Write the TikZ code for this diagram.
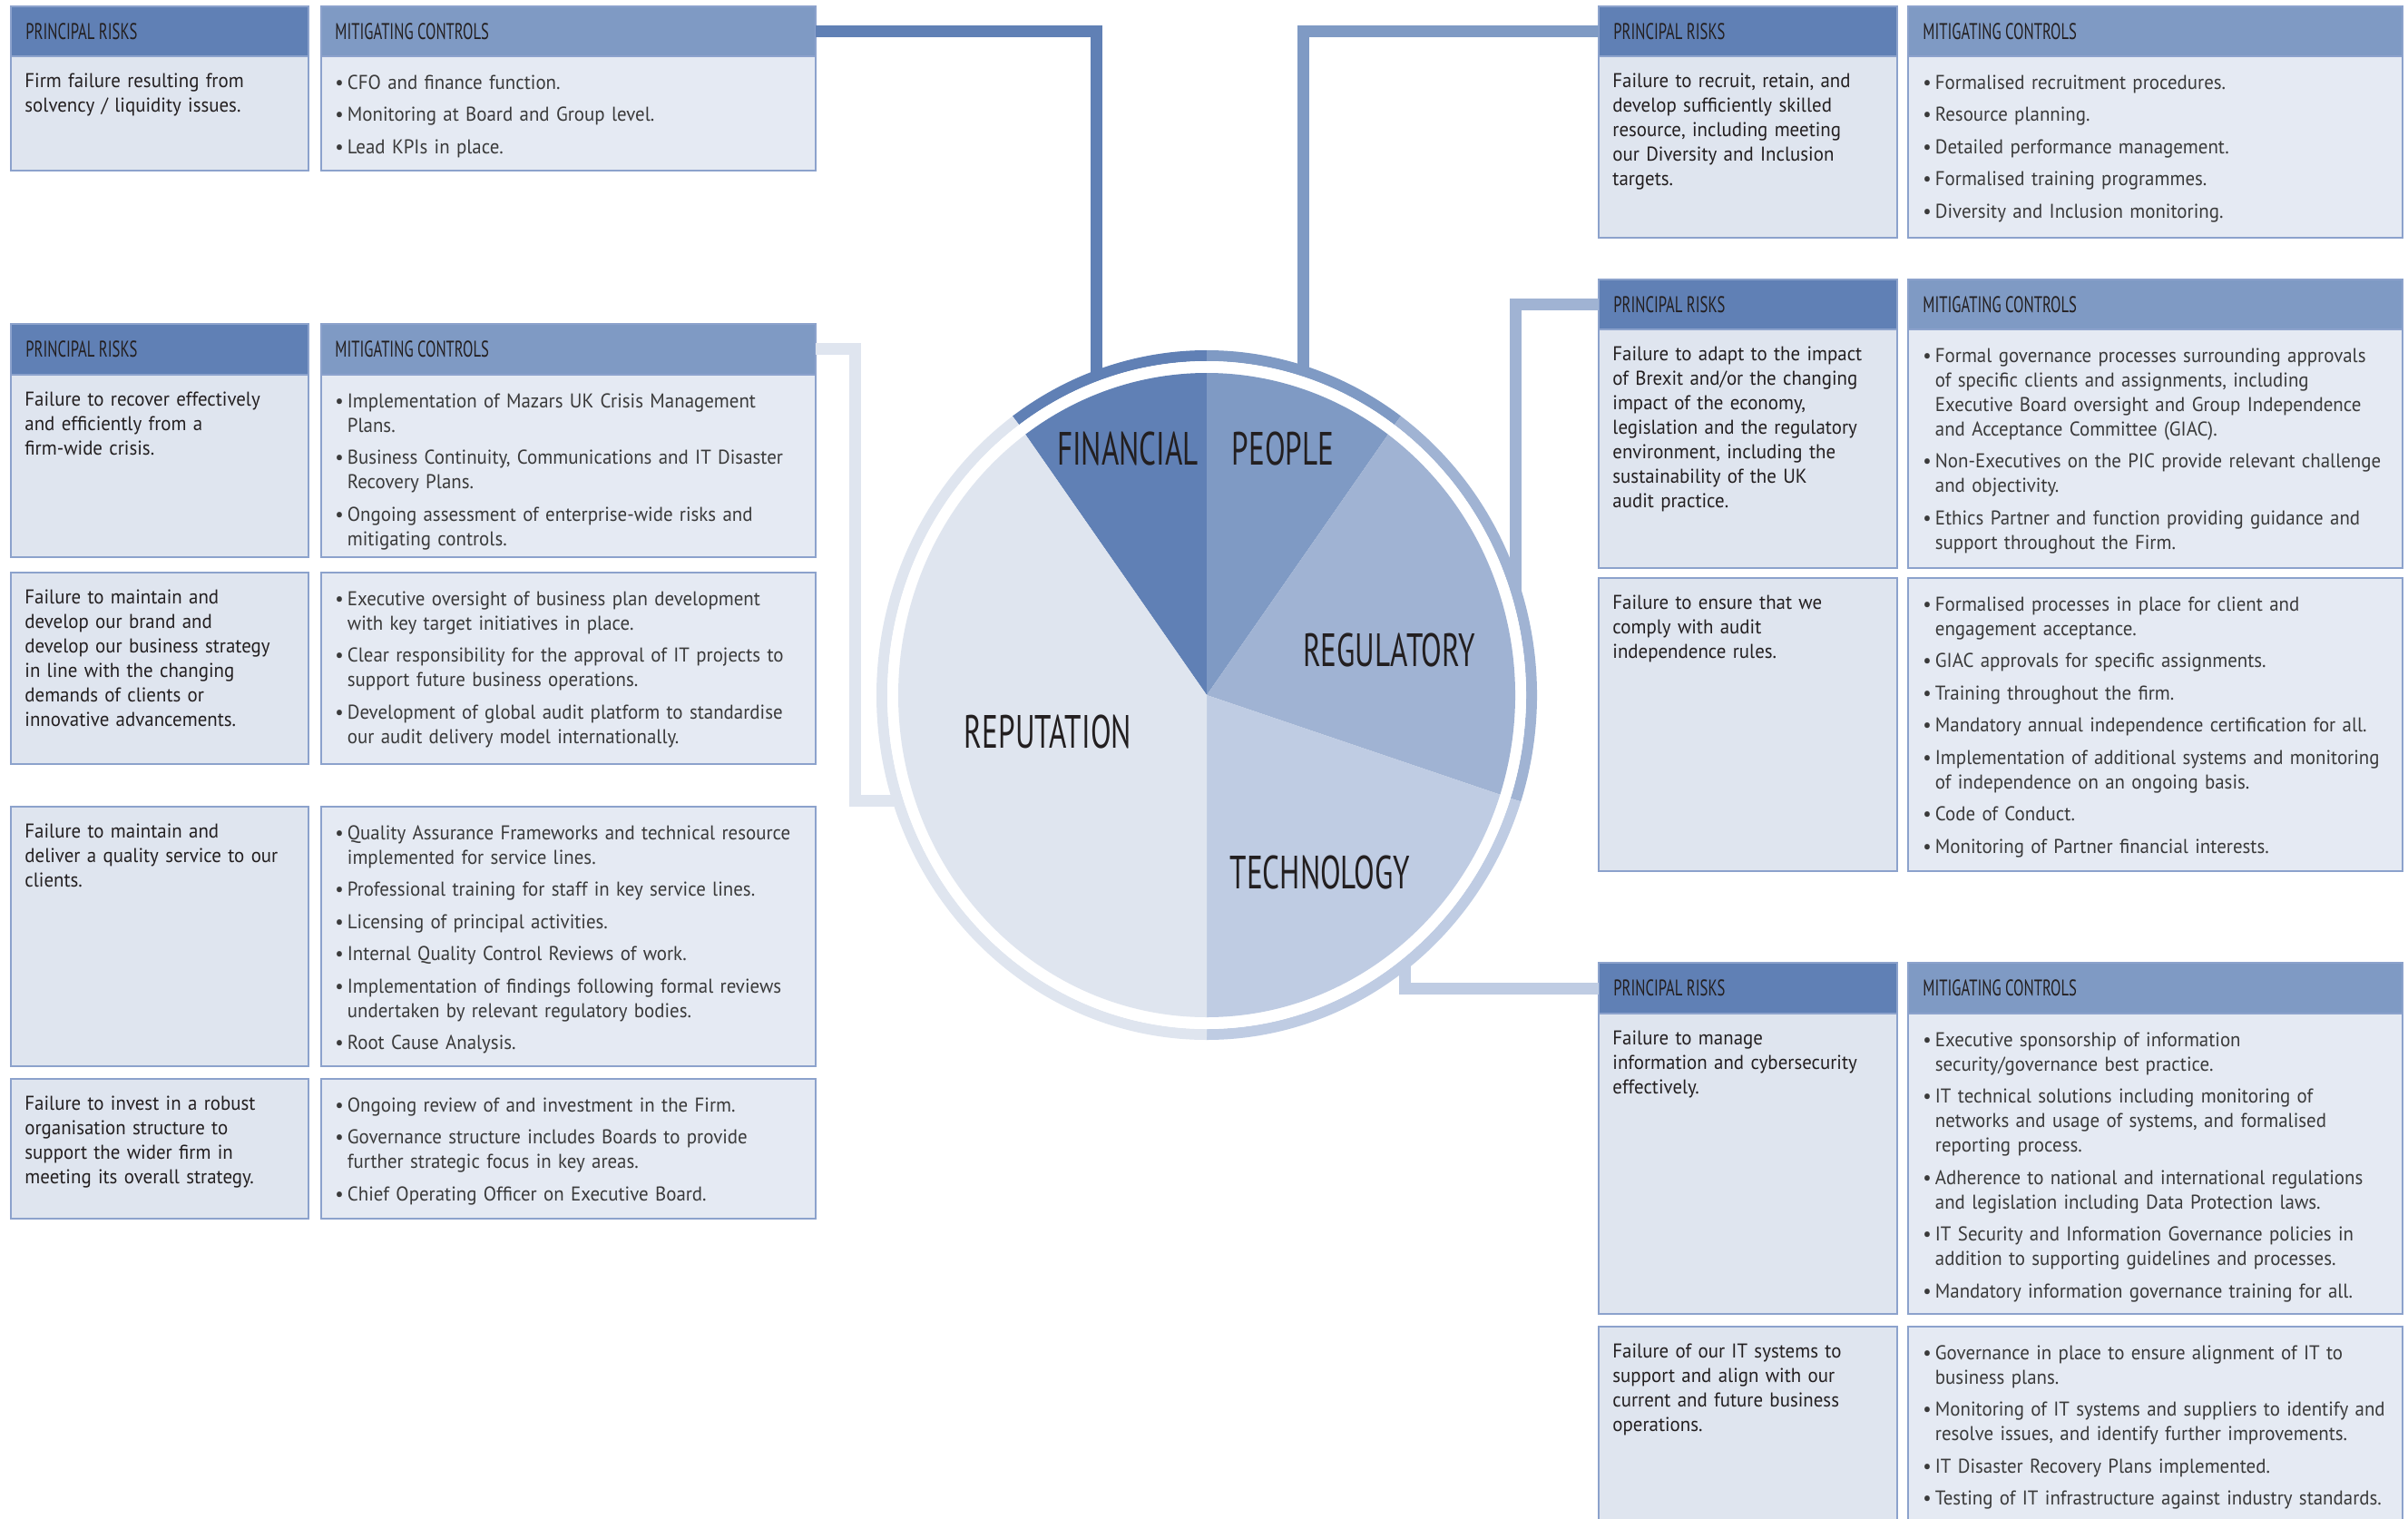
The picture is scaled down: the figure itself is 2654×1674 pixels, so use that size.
\documentclass[tikz,border=0pt]{standalone}
\usepackage{fontspec}
\setmainfont{PT Sans}[FakeStretch=0.95]
\newfontfamily\condf{PT Sans}[FakeStretch=0.665]
\newfontfamily\lblf{PT Sans}[FakeStretch=0.645]
\usetikzlibrary{fit}
\definecolor{cA}{HTML}{6080B5}
\definecolor{cB}{HTML}{7F9AC4}
\definecolor{cC}{HTML}{A0B3D3}
\definecolor{cD}{HTML}{BFCCE3}
\definecolor{cE}{HTML}{DFE5EF}
\definecolor{bodyR}{HTML}{DFE5EF}
\definecolor{bodyM}{HTML}{E5EAF3}
\definecolor{bord}{HTML}{8CA2CC}
\definecolor{ink}{HTML}{231F20}
\definecolor{inkM}{HTML}{3A3A3A}
\newcommand\bi[1]{{\hangindent=6.75pt\hangafter=1\noindent\rule{0pt}{8pt}\makebox[6.75pt][l]{\textbullet}#1\par}\vspace{4.25pt}}
\tikzset{
  rbody/.style={inner sep=0pt, outer sep=0pt, draw=bord, line width=1pt, fill=bodyR},
  mbody/.style={inner sep=0pt, outer sep=0pt, draw=bord, line width=1pt, fill=bodyM},
  rhead/.style={inner sep=0pt, outer sep=0pt, draw=bord, line width=1pt, fill=cA},
  mhead/.style={inner sep=0pt, outer sep=0pt, draw=bord, line width=1pt, fill=cB},
  htxt/.style={anchor=west, inner sep=0pt, text=ink, font=\condf\fontsize{12.5}{13}\selectfont},
  risk/.style={anchor=north west, inner sep=0pt, align=left, text width=175pt, text=ink,
     font=\fontsize{11}{13.5}\selectfont, yshift=-0.75pt},
  ctl/.style={anchor=north west, inner sep=0pt, align=left, text width=300pt, text=inkM,
     font=\fontsize{11}{13.5}\selectfont, yshift=-1.5pt},
  conn/.style={line width=6.5pt, line join=miter, line cap=butt},
  ringseg/.style={line width=6pt, line cap=butt},
  plbl/.style={inner sep=0pt, text=ink, font=\lblf\fontsize{25.7}{28}\selectfont}
}
\begin{document}
\begin{tikzpicture}[x=0.5pt,y=-0.5pt]
\useasboundingbox (0,0) rectangle (2654,1674);

% ---------------- LEFT: FINANCIAL ----------------
\node[rbody, fit={(12,7) (340,188)}] (fR) {};
\node[rhead, fit={(12,7) (340,62)}] (fRh) {};
\node[mbody, fit={(354,7) (899,188)}] (fM) {};
\node[mhead, fit={(354,7) (899,62)}] (fMh) {};
\node[htxt] (fRt) at (28,34.5) {PRINCIPAL RISKS};
\node[htxt] (fMt) at (369,34.5) {MITIGATING CONTROLS};
\node[risk] (fRx) at (27,79) {\rule{0pt}{8pt}Firm failure resulting from\\solvency / liquidity issues.};
\node[ctl] (fMx) at (369,79) {\bi{CFO and finance function.}\bi{Monitoring at Board and Group level.}\bi{Lead KPIs in place.}};

% ---------------- LEFT: REPUTATION ----------------
\node[rbody, fit={(12,357) (340,614)}] (r1R) {};
\node[rhead, fit={(12,357) (340,413)}] (r1Rh) {};
\node[mbody, fit={(354,357) (899,614)}] (r1M) {};
\node[mhead, fit={(354,357) (899,413)}] (r1Mh) {};
\node[htxt] (r1Rt) at (28,385) {PRINCIPAL RISKS};
\node[htxt] (r1Mt) at (369,385) {MITIGATING CONTROLS};
\node[risk] (r1Rx) at (27,430) {\rule{0pt}{8pt}Failure to recover effectively\\and efficiently from a\\firm-wide crisis.};
\node[ctl] (r1Mx) at (369,430) {\bi{Implementation of Mazars UK Crisis Management\newline Plans.}\bi{Business Continuity, Communications and IT Disaster\newline Recovery Plans.}\bi{Ongoing assessment of enterprise-wide risks and\newline mitigating controls.}};

\node[rbody, fit={(12,631) (340,842)}] (r2R) {};
\node[mbody, fit={(354,631) (899,842)}] (r2M) {};
\node[risk] (r2Rx) at (27,648) {\rule{0pt}{8pt}Failure to maintain and\\develop our brand and\\develop our business strategy\\in line with the changing\\demands of clients or\\innovative advancements.};
\node[ctl] (r2Mx) at (369,648) {\bi{Executive oversight of business plan development\newline with key target initiatives in place.}\bi{Clear responsibility for the approval of IT projects to\newline support future business operations.}\bi{Development of global audit platform to standardise\newline our audit delivery model internationally.}};

\node[rbody, fit={(12,889) (340,1175)}] (r3R) {};
\node[mbody, fit={(354,889) (899,1175)}] (r3M) {};
\node[risk] (r3Rx) at (27,906) {\rule{0pt}{8pt}Failure to maintain and\\deliver a quality service to our\\clients.};
\node[ctl] (r3Mx) at (369,906) {\bi{Quality Assurance Frameworks and technical resource\newline implemented for service lines.}\bi{Professional training for staff in key service lines.}\bi{Licensing of principal activities.}\bi{Internal Quality Control Reviews of work.}\bi{Implementation of findings following formal reviews\newline undertaken by relevant regulatory bodies.}\bi{Root Cause Analysis.}};

\node[rbody, fit={(12,1189) (340,1343)}] (r4R) {};
\node[mbody, fit={(354,1189) (899,1343)}] (r4M) {};
\node[risk] (r4Rx) at (27,1206) {\rule{0pt}{8pt}Failure to invest in a robust\\organisation structure to\\support the wider firm in\\meeting its overall strategy.};
\node[ctl] (r4Mx) at (369,1206) {\bi{Ongoing review of and investment in the Firm.}\bi{Governance structure includes Boards to provide\newline further strategic focus in key areas.}\bi{Chief Operating Officer on Executive Board.}};

% ---------------- RIGHT: PEOPLE ----------------
\node[rbody, fit={(1762,7) (2091,262)}] (pR) {};
\node[rhead, fit={(1762,7) (2091,62)}] (pRh) {};
\node[mbody, fit={(2103,7) (2648,262)}] (pM) {};
\node[mhead, fit={(2103,7) (2648,62)}] (pMh) {};
\node[htxt] (pRt) at (1778,34.5) {PRINCIPAL RISKS};
\node[htxt] (pMt) at (2119,34.5) {MITIGATING CONTROLS};
\node[risk] (pRx) at (1777,79) {\rule{0pt}{8pt}Failure to recruit, retain, and\\develop sufficiently skilled\\resource, including meeting\\our Diversity and Inclusion\\targets.};
\node[ctl] (pMx) at (2119,79) {\bi{Formalised recruitment procedures.}\bi{Resource planning.}\bi{Detailed performance management.}\bi{Formalised training programmes.}\bi{Diversity and Inclusion monitoring.}};

% ---------------- RIGHT: REGULATORY ----------------
\node[rbody, fit={(1762,308) (2091,626)}] (g1R) {};
\node[rhead, fit={(1762,308) (2091,363)}] (g1Rh) {};
\node[mbody, fit={(2103,308) (2648,626)}] (g1M) {};
\node[mhead, fit={(2103,308) (2648,363)}] (g1Mh) {};
\node[htxt] (g1Rt) at (1778,335.5) {PRINCIPAL RISKS};
\node[htxt] (g1Mt) at (2119,335.5) {MITIGATING CONTROLS};
\node[risk] (g1Rx) at (1777,380) {\rule{0pt}{8pt}Failure to adapt to the impact\\of Brexit and/or the changing\\impact of the economy,\\legislation and the regulatory\\environment, including the\\sustainability of the UK\\audit practice.};
\node[ctl] (g1Mx) at (2119,380) {\bi{Formal governance processes surrounding approvals\newline of specific clients and assignments, including\newline Executive Board oversight and Group Independence\newline and Acceptance Committee (GIAC).}\bi{Non-Executives on the PIC provide relevant challenge\newline and objectivity.}\bi{Ethics Partner and function providing guidance and\newline support throughout the Firm.}};

\node[rbody, fit={(1762,637) (2091,960)}] (g2R) {};
\node[mbody, fit={(2103,637) (2648,960)}] (g2M) {};
\node[risk] (g2Rx) at (1777,654) {\rule{0pt}{8pt}Failure to ensure that we\\comply with audit\\independence rules.};
\node[ctl] (g2Mx) at (2119,654) {\bi{Formalised processes in place for client and\newline engagement acceptance.}\bi{GIAC approvals for specific assignments.}\bi{Training throughout the firm.}\bi{Mandatory annual independence certification for all.}\bi{Implementation of additional systems and monitoring\newline of independence on an ongoing basis.}\bi{Code of Conduct.}\bi{Monitoring of Partner financial interests.}};

% ---------------- RIGHT: TECHNOLOGY ----------------
\node[rbody, fit={(1762,1061) (2091,1448)}] (t1R) {};
\node[rhead, fit={(1762,1061) (2091,1117)}] (t1Rh) {};
\node[mbody, fit={(2103,1061) (2648,1448)}] (t1M) {};
\node[mhead, fit={(2103,1061) (2648,1117)}] (t1Mh) {};
\node[htxt] (t1Rt) at (1778,1089) {PRINCIPAL RISKS};
\node[htxt] (t1Mt) at (2119,1089) {MITIGATING CONTROLS};
\node[risk] (t1Rx) at (1777,1134) {\rule{0pt}{8pt}Failure to manage\\information and cybersecurity\\effectively.};
\node[ctl] (t1Mx) at (2119,1134) {\bi{Executive sponsorship of information\newline security/governance best practice.}\bi{IT technical solutions including monitoring of\newline networks and usage of systems, and formalised\newline reporting process.}\bi{Adherence to national and international regulations\newline and legislation including Data Protection laws.}\bi{IT Security and Information Governance policies in\newline addition to supporting guidelines and processes.}\bi{Mandatory information governance training for all.}};

\node[rbody, fit={(1762,1462) (2091,1700)}] (t2R) {};
\node[mbody, fit={(2103,1462) (2648,1700)}] (t2M) {};
\node[risk] (t2Rx) at (1777,1479) {\rule{0pt}{8pt}Failure of our IT systems to\\support and align with our\\current and future business\\operations.};
\node[ctl] (t2Mx) at (2119,1479) {\bi{Governance in place to ensure alignment of IT to\newline business plans.}\bi{Monitoring of IT systems and suppliers to identify and\newline resolve issues, and identify further improvements.}\bi{IT Disaster Recovery Plans implemented.}\bi{Testing of IT infrastructure against industry standards.}};

% ---------------- CONNECTORS ----------------
\coordinate (ringF) at (1208,416);
\coordinate (ringP) at (1436,411);
\coordinate (ringG) at (1670,651);
\coordinate (ringT) at (1548,1061);
\coordinate (repCorner) at (942,882);
\coordinate (ringR) at (994,882);
\draw[conn, cA] (fMh.east) -| (ringF);
\draw[conn, cB] (pRh.west) -| (ringP);
\draw[conn, cC] (g1Rh.west) -| (ringG);
\draw[conn, cD] (t1Rh.west) -| (ringT);
\draw[conn, cE] (r1Mh.east) -| (repCorner) -- (ringR);

% ---------------- PIE ----------------
\begin{scope}[shift={(1330,766)}, yscale=-1]
  \draw[ringseg, cA] (126:358 and 374) arc[start angle=126, end angle=90, x radius=358, y radius=374];
  \draw[ringseg, cB] (90:358 and 374) arc[start angle=90, end angle=54, x radius=358, y radius=374];
  \draw[ringseg, cC] (54:358 and 374) arc[start angle=54, end angle=-18, x radius=358, y radius=374];
  \draw[ringseg, cD] (-18:358 and 374) arc[start angle=-18, end angle=-90, x radius=358, y radius=374];
  \draw[ringseg, cE] (-90:358 and 374) arc[start angle=-90, end angle=-234, x radius=358, y radius=374];
  \fill[white] (0,0) ellipse[x radius=352, y radius=368];
  \fill[cA] (0,0) -- (126:340 and 355) arc[start angle=126, end angle=90, x radius=340, y radius=355] -- cycle;
  \fill[cB] (0,0) -- (90:340 and 355) arc[start angle=90, end angle=54, x radius=340, y radius=355] -- cycle;
  \fill[cC] (0,0) -- (54:340 and 355) arc[start angle=54, end angle=-18, x radius=340, y radius=355] -- cycle;
  \fill[cD] (0,0) -- (-18:340 and 355) arc[start angle=-18, end angle=-90, x radius=340, y radius=355] -- cycle;
  \fill[cE] (0,0) -- (-90:340 and 355) arc[start angle=-90, end angle=-234, x radius=340, y radius=355] -- cycle;
\end{scope}
\node[plbl] (lFin) at (1243,495) {FINANCIAL};
\node[plbl] (lPeo) at (1414,495) {PEOPLE};
\node[plbl] (lReg) at (1531,717) {REGULATORY};
\node[plbl] (lRep) at (1155,807) {REPUTATION};
\node[plbl] (lTec) at (1455,962) {TECHNOLOGY};
\end{tikzpicture}
\end{document}
